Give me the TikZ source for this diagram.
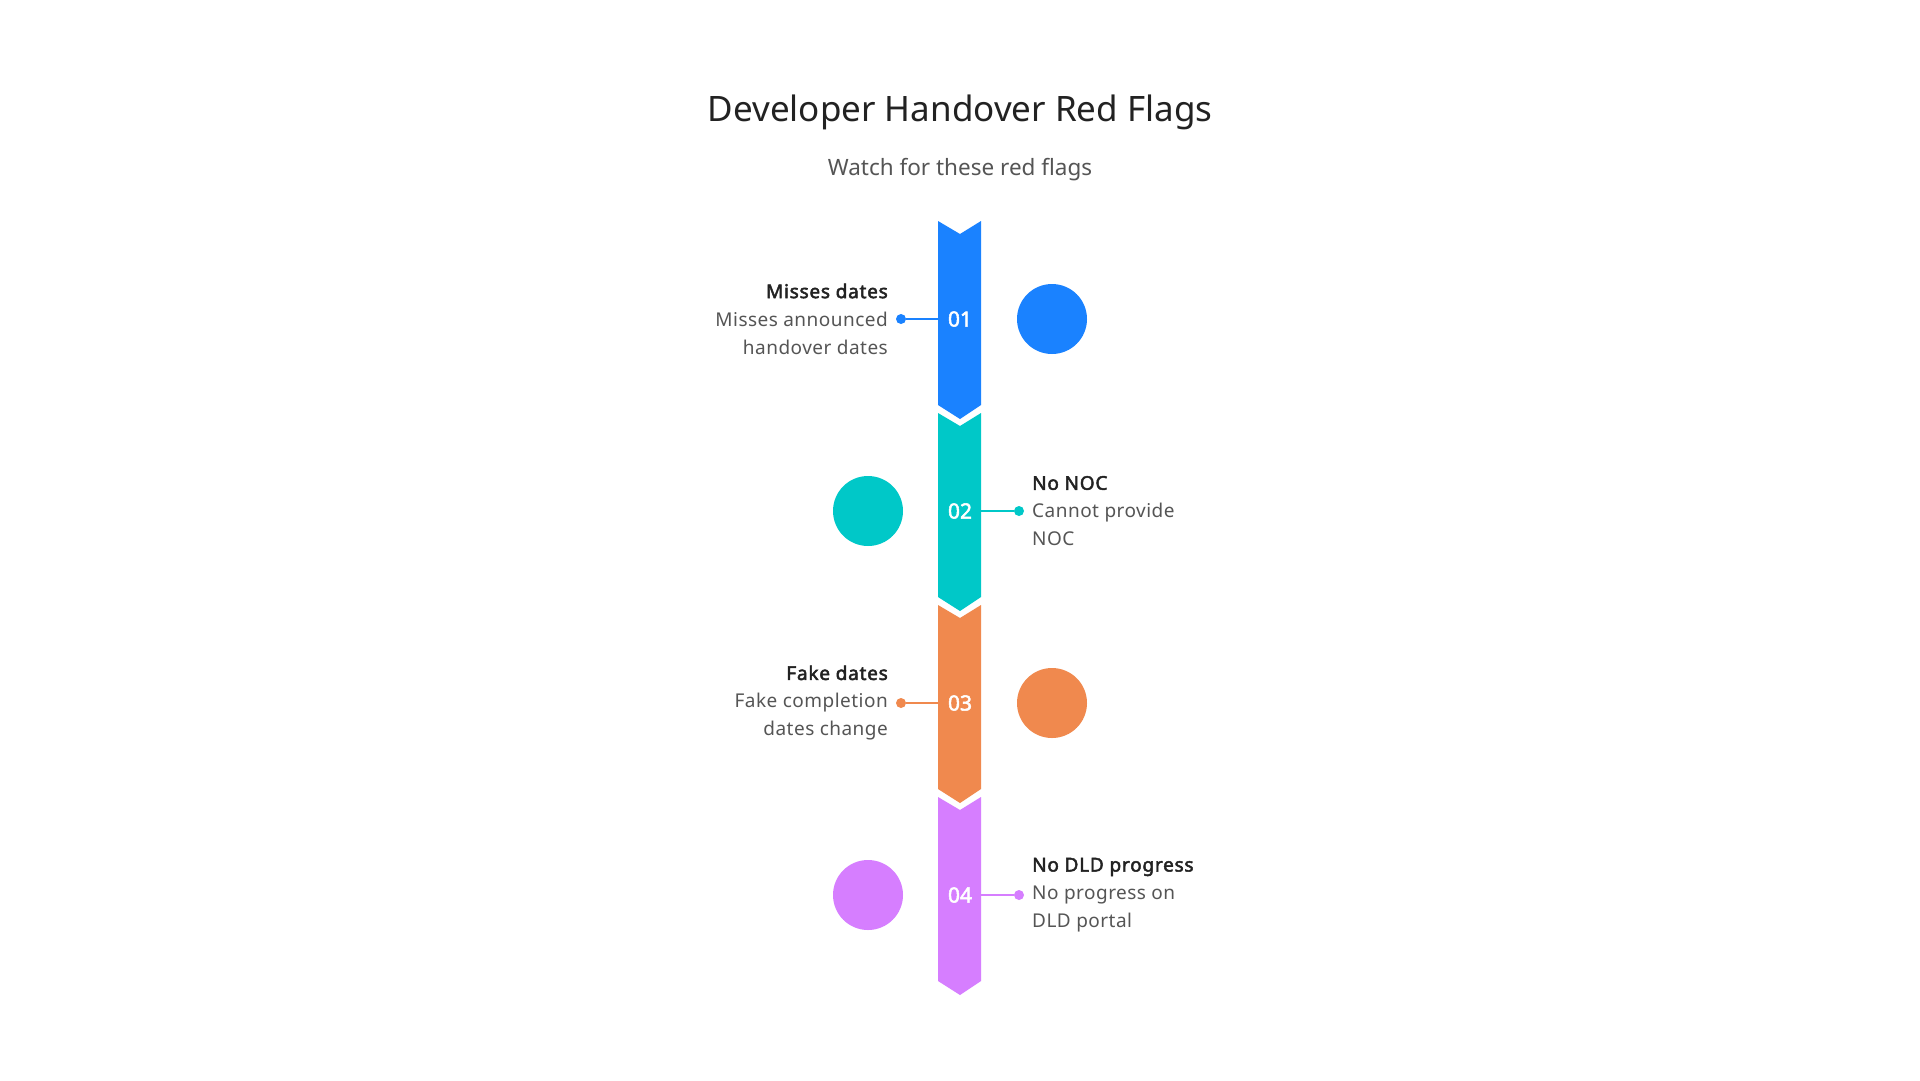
\documentclass[tikz,border=0pt]{standalone}
\usepackage{fontspec}
\setmainfont{Noto Sans}[BoldFont={Noto Sans},BoldFeatures={FakeBold=2.5}]
\newfontfamily\bodyfont{Noto Sans}[LetterSpace=2.5,BoldFont={Noto Sans},BoldFeatures={FakeBold=2.5,LetterSpace=4}]
\definecolor{cblue}{HTML}{1A82FF}
\definecolor{cteal}{HTML}{00C8C8}
\definecolor{corange}{HTML}{F0894E}
\definecolor{cpurple}{HTML}{D67EFF}
\definecolor{ink}{HTML}{222222}
\definecolor{soft}{HTML}{555555}
\begin{document}
\begin{tikzpicture}[x=1pt,y=1pt,
  num/.style={text=white,font=\fontsize{21}{21}\selectfont\bfseries,inner sep=0},
  dot/.style={circle,minimum size=10,inner sep=0},
  blob/.style={circle,minimum size=70,inner sep=0},
  link/.style={line width=2.5},
  txt/.style={text=soft,font=\bodyfont\fontsize{19}{28}\selectfont,inner sep=0}]
  \useasboundingbox[fill=white] (0,0) rectangle (1920,-1080);
  \node[text=ink,font=\fontsize{35}{40}\selectfont] (title) at (960,-112) {Developer Handover Red Flags};
  \node[text=soft,font=\fontsize{22.5}{26}\selectfont] (sub) at (960,-170) {Watch for these red flags};
  % chevron bands
  \foreach \i/\col in {1/cblue,2/cteal,3/corange,4/cpurple} {
    \pgfmathsetmacro{\ytop}{-221-(\i-1)*192}
    \fill[\col] (938,\ytop) -- ++(22,-13) -- ++(21,13) -- ++(0,-184)
      -- ++(-21,-14) -- ++(-22,14) -- cycle;
    \node[num] (n\i) at (960,\ytop-98) {0\i};
    \coordinate (w\i) at (938,\ytop-98);
    \coordinate (e\i) at (981,\ytop-98);
  }

  \node[dot,fill=cblue] (d1) at (901,-319) {};
  \draw[link,cblue] (w1) -- (d1);
  \node[txt,anchor=east,align=right] (t1) at (888,-319)
    {\textcolor{ink}{\bfseries Misses dates}\\Misses announced\\handover dates};
  \node[blob,fill=cblue] (c1) at (1052,-319) {};

  \node[dot,fill=cteal] (d2) at (1019,-511) {};
  \draw[link,cteal] (e2) -- (d2);
  \node[txt,anchor=west,align=left] (t2) at (1032,-511)
    {\textcolor{ink}{\bfseries No NOC}\\Cannot provide\\NOC};
  \node[blob,fill=cteal] (c2) at (868,-511) {};

  \node[dot,fill=corange] (d3) at (901,-703) {};
  \draw[link,corange] (w3) -- (d3);
  \node[txt,anchor=east,align=right] (t3) at (888,-703)
    {\textcolor{ink}{\bfseries Fake dates}\\Fake completion\\dates change};
  \node[blob,fill=corange] (c3) at (1052,-703) {};

  \node[dot,fill=cpurple] (d4) at (1019,-895) {};
  \draw[link,cpurple] (e4) -- (d4);
  \node[txt,anchor=west,align=left] (t4) at (1032,-895)
    {\textcolor{ink}{\bfseries No DLD progress}\\No progress on\\DLD portal};
  \node[blob,fill=cpurple] (c4) at (868,-895) {};
\end{tikzpicture}
\end{document}
